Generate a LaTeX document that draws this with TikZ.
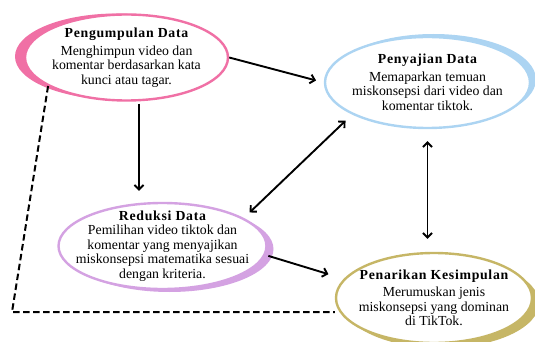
\documentclass[tikz,border=0pt]{standalone}
\usepackage{fontspec}
\setmainfont{Liberation Serif}
\newfontfamily\titlefont[LetterSpace=5]{Liberation Serif}
\usetikzlibrary{shapes.geometric,shadows,arrows.meta}
\definecolor{pinkline}{RGB}{240,112,165}
\definecolor{blueline}{RGB}{172,212,242}
\definecolor{purpleline}{RGB}{212,162,226}
\definecolor{khakiline}{RGB}{198,182,102}
\begin{document}
\begin{tikzpicture}[x=1pt, y=-1pt, >={Straight Barb[length=4.5pt,width=9pt]}, line width=1.9pt,
    main node/.style={ellipse, draw, fill=white, line width=2.4pt, inner sep=0pt},
    box text/.style={align=center, inner sep=0pt, font=\fontsize{13.8}{14.5}\selectfont},
    dashline/.style={dash pattern=on 6.5pt off 3.5pt, line width=2pt}]
        \useasboundingbox (0,0) rectangle (535,342);

          \node[main node, draw=pinkline, minimum width=203pt, minimum height=86pt,
            general shadow={fill=pinkline, shadow xshift=-10pt, shadow yshift=1pt},
            label={[box text]center:{{\titlefont\bfseries Pengumpulan Data}\\[3pt] Menghimpun video dan\\ komentar berdasarkan kata\\ kunci atau tagar.}}] (1) at (126.5,57.5) {};
          \node[main node, draw=blueline, minimum width=205pt, minimum height=91pt,
            general shadow={fill=blueline, shadow xshift=6pt, shadow yshift=3pt},
            label={[box text]center:{{\titlefont\bfseries Penyajian Data}\\[3pt] Memaparkan temuan\\ miskonsepsi dari video dan\\ komentar tiktok.}}] (2) at (427.5,82.5) {};
          \node[main node, draw=purpleline, minimum width=208pt, minimum height=86pt,
            general shadow={fill=purpleline, shadow xshift=7pt, shadow yshift=-3pt},
            label={[box text]center:{{\titlefont\bfseries Reduksi Data}\\ Pemilihan video tiktok dan\\ komentar yang menyajikan\\ miskonsepsi matematika sesuai\\ dengan kriteria.}}] (3) at (162.5,246) {};
          \node[main node, draw=khakiline, minimum width=196pt, minimum height=90pt,
            general shadow={fill=khakiline, shadow xshift=7pt, shadow yshift=-5pt},
            label={[box text]center:{{\titlefont\bfseries Penarikan Kesimpulan}\\[3pt] Merumuskan jenis\\ miskonsepsi yang dominan\\ di TikTok.}}] (4) at (434,298) {};

          \coordinate (c) at (12,312);

          \path[->]
            (1.east) edge[shorten >=8pt] (2.west)
            ([xshift=12.5pt]1.south) edge[shorten <=2pt, shorten >=11pt] ([xshift=12.5pt]1.south |- 3.north)
            (3.19) edge[<->, shorten <=8pt, shorten >=9pt] (2.203)
            (2.south) edge[<->, shorten <=12pt, shorten >=13pt] (2.south |- 4.north)
            (3.-5) edge[shorten <=3pt, shorten >=16pt] (4.168);
          \draw[dashline] (1.200) -- (c) -- (c -| 4.west);

        \end{tikzpicture}
\end{document}
